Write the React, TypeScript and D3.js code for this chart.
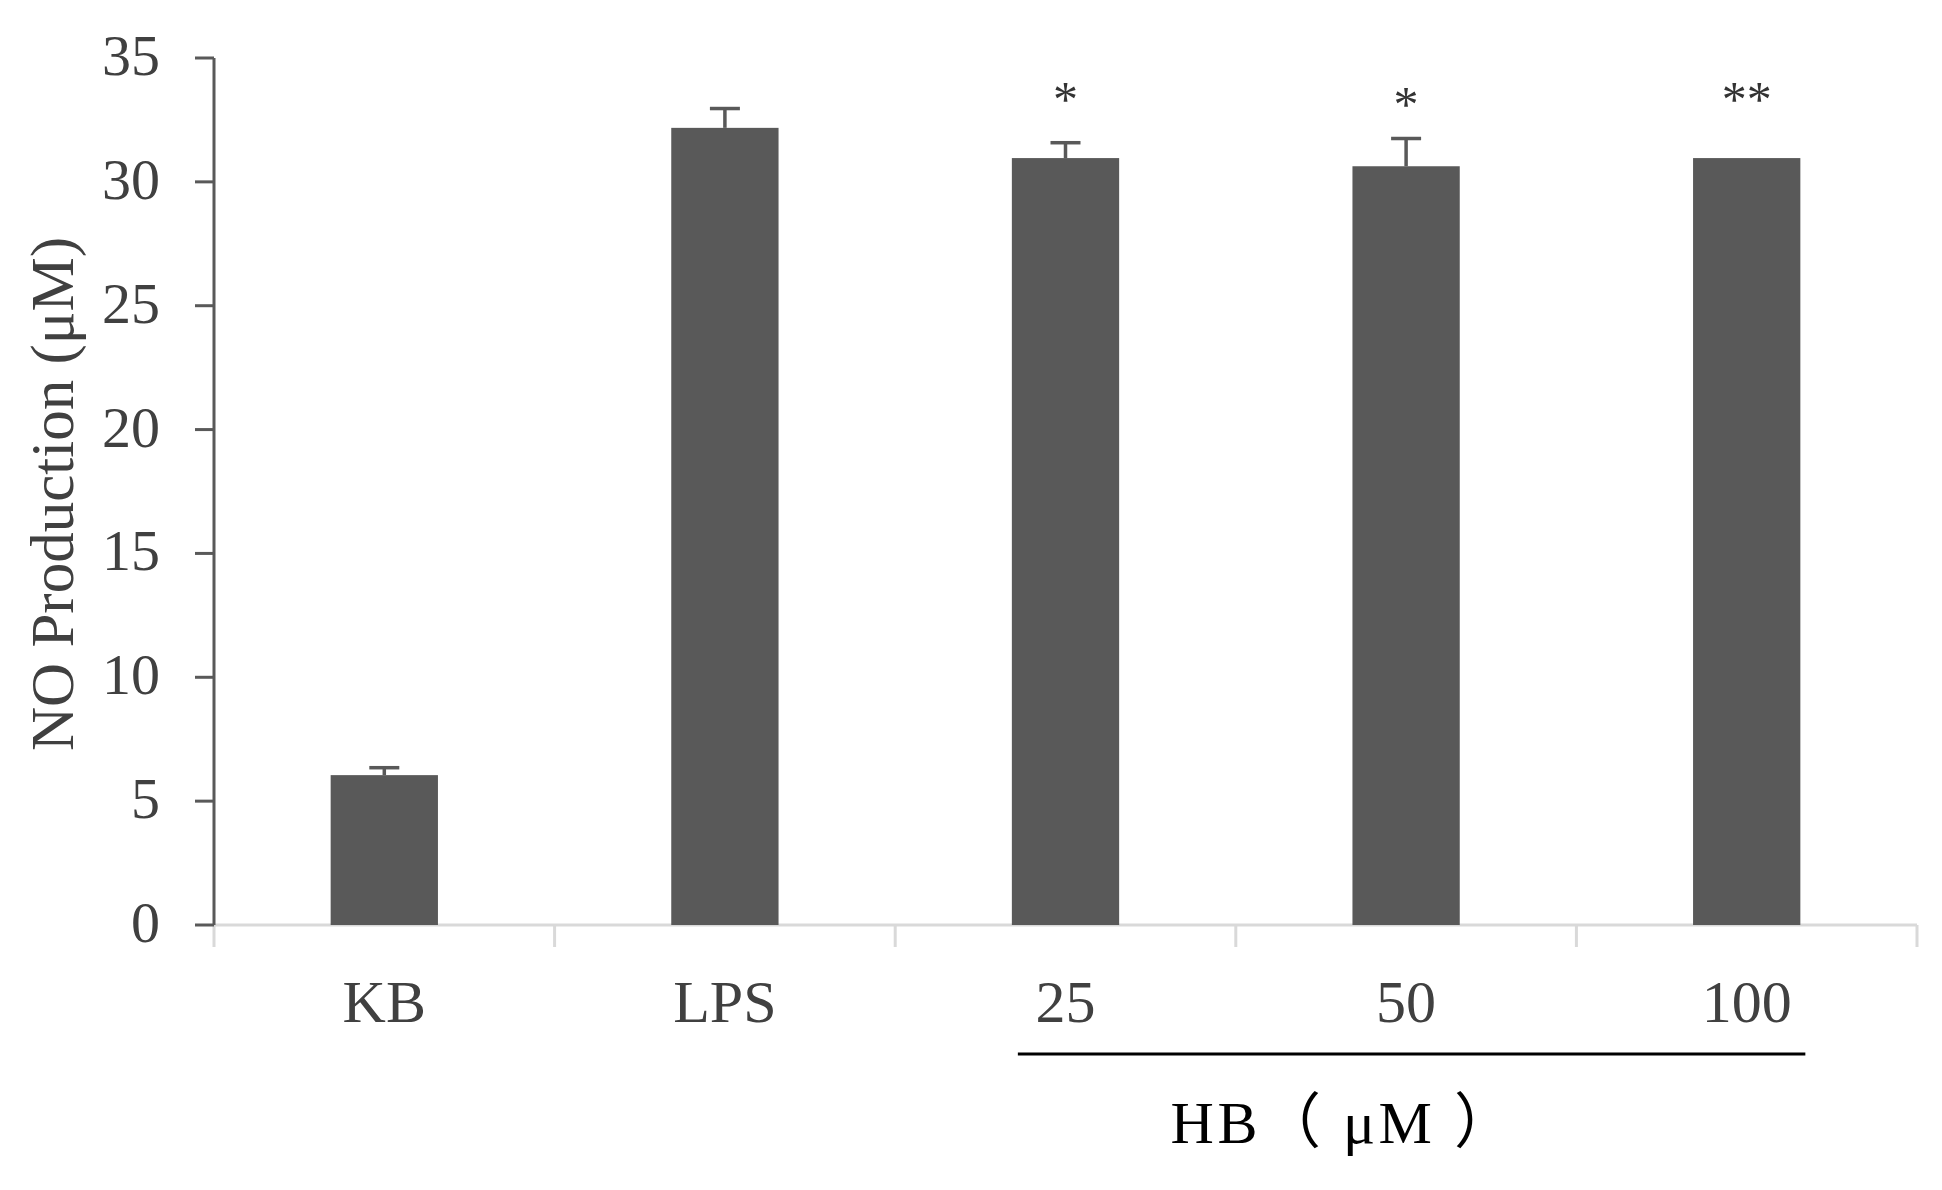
import React from "react";
import * as d3 from "d3";

const categories = ["KB", "LPS", "25", "50", "100"];
const means = [6.05, 32.18, 30.96, 30.63, 30.96];
const errors = [0.3, 0.78, 0.62, 1.12, 0];
const sigLabels = ["", "", "*", "*", "**"];
const sigLevels = [0, 0, 33.75, 33.55, 33.75];
const yTicks = [0, 5, 10, 15, 20, 25, 30, 35];
const yLabel = "NO Production (μM)";
const groupLabel = "HB（ μM ）";
const groupMembers = ["25", "50", "100"];

const W = 1942;
const H = 1190;
const left = 214;
const right = 1917;
const top = 58;
const bottom = 925;

const serif = "'Times New Roman', 'Liberation Serif', 'DejaVu Serif', serif";
const barColor = "#595959";

export default function App() {
  const x = d3.scaleBand<string>().domain(categories).range([left, right]).padding(0);
  const y = d3.scaleLinear().domain([0, 35]).range([bottom, top]);
  const step = x.step();
  const bw = step * 0.315;
  const cx = (c: string) => (x(c) as number) + step / 2;
  const boundaries = d3.range(categories.length + 1).map((i) => left + i * step);

  const gFirst = groupMembers[0];
  const gLast = groupMembers[groupMembers.length - 1];
  const lineX1 = cx(gFirst) - bw / 2 + 6;
  const lineX2 = cx(gLast) + bw / 2 + 5;

  return (
    <svg
      width={W}
      height={H}
      viewBox={`0 0 ${W} ${H}`}
      style={{ position: "absolute", left: 0, top: 0, background: "#fff" }}
    >
      <rect x={0} y={0} width={W} height={H} fill="#fff" />
      {/* x axis */}
      <line x1={left} x2={right} y1={y(0)} y2={y(0)} stroke="#d9d9d9" strokeWidth={3} />
      {boundaries.map((bx, i) => (
        <line key={"xb" + i} x1={bx} x2={bx} y1={y(0)} y2={y(0) + 22} stroke="#d9d9d9" strokeWidth={3} />
      ))}
      {/* bars */}
      {categories.map((c, i) => (
        <rect key={"bar" + c} x={cx(c) - bw / 2} y={y(means[i])} width={bw} height={y(0) - y(means[i])} fill={barColor} />
      ))}
      {/* error bars */}
      {categories.map((c, i) =>
        errors[i] > 0 ? (
          <g key={"err" + c} stroke={barColor} strokeWidth={3.5}>
            <line x1={cx(c)} x2={cx(c)} y1={y(means[i])} y2={y(means[i] + errors[i])} />
            <line x1={cx(c) - 15} x2={cx(c) + 15} y1={y(means[i] + errors[i])} y2={y(means[i] + errors[i])} />
          </g>
        ) : null
      )}
      {/* significance */}
      {categories.map((c, i) =>
        sigLabels[i] ? (
          <text key={"sig" + c} x={cx(c)} y={y(sigLevels[i]) + 27} textAnchor="middle" fontFamily={serif} fontSize={50} fill="#333">
            {sigLabels[i]}
          </text>
        ) : null
      )}
      {/* y axis */}
      <line x1={left} x2={left} y1={y(35)} y2={y(0)} stroke={barColor} strokeWidth={3} />
      {yTicks.map((t) => (
        <g key={"yt" + t}>
          <line x1={left - 19} x2={left} y1={y(t)} y2={y(t)} stroke={barColor} strokeWidth={3} />
          <text x={160} y={y(t) + 17} textAnchor="end" fontFamily={serif} fontSize={58} fill="#404040">
            {t}
          </text>
        </g>
      ))}
      {/* y label */}
      <text
        transform={`translate(73, 494) rotate(-90)`}
        textAnchor="middle"
        fontFamily={serif}
        fontSize={61}
        fill="#404040"
      >
        {yLabel}
      </text>
      {/* category labels */}
      {categories.map((c) => (
        <text key={"xl" + c} x={cx(c)} y={1022} textAnchor="middle" fontFamily={serif} fontSize={60} fill="#404040">
          {c}
        </text>
      ))}
      {/* group line and label */}
      <line x1={lineX1} x2={lineX2} y1={1054} y2={1054} stroke="#000" strokeWidth={3} />
      <text
        x={1344}
        y={1143}
        textAnchor="middle"
        fontFamily={"'Times New Roman', 'Liberation Serif', 'Noto Sans CJK SC', serif"}
        fontSize={60}
        letterSpacing={3.5}
        fill="#000"
        style={{ whiteSpace: "pre" }}
      >
        {groupLabel}
      </text>
    </svg>
  );
}
